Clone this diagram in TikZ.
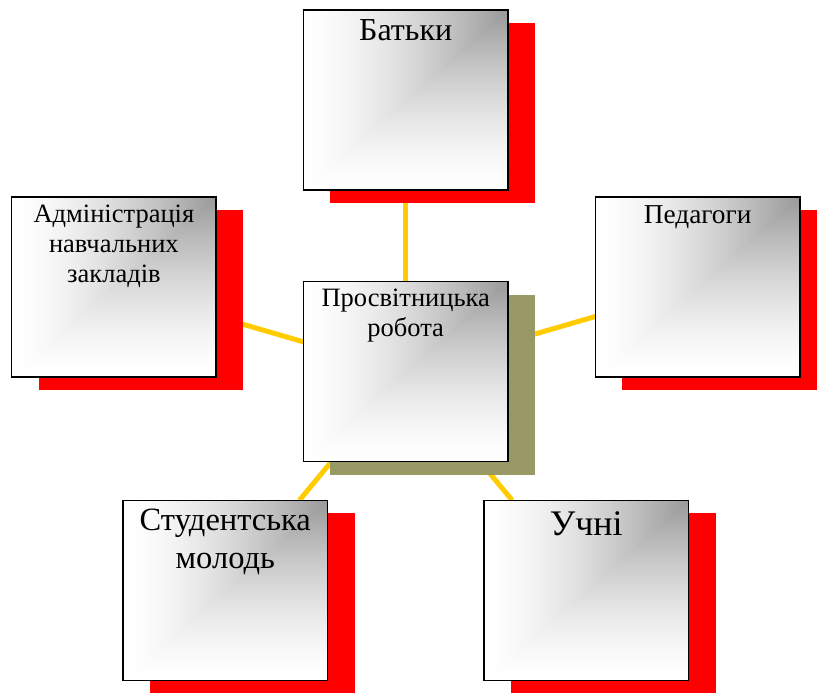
\documentclass[tikz,border=0pt]{standalone}
\usepackage{fontspec}
\setmainfont{Liberation Serif}
\usepackage{tikz}
\usetikzlibrary{shadows,backgrounds}

\definecolor{linkgold}{HTML}{FFCC00}
\definecolor{shadowred}{HTML}{FF0000}
\definecolor{shadowolive}{HTML}{999966}

% grey in the upper right corner, white towards left and bottom edges
\pgfdeclarefunctionalshading{cornerfade}{\pgfpoint{-50bp}{-50bp}}{\pgfpoint{50bp}{50bp}}{}{
  25 exch sub exch 25 exch sub
  2 copy sub abs add add 2 div
  50 div 1 exch sub abs dup sqrt mul 0.4 mul 1 exch sub
  dup dup
}

\tikzset{
  box/.style={draw=black, line width=1.5pt, shade, shading=cornerfade,
    minimum width=204.5pt, minimum height=180pt, inner sep=0pt, outer sep=0pt,
    drop shadow={shadow xshift=27pt, shadow yshift=-13pt, fill=#1, opacity=1}},
  box/.default=shadowred,
  boxtext/.style={anchor=base, align=center, inner sep=0pt},
  link/.style={draw=linkgold, line width=5pt}
}

\begin{document}
\begin{tikzpicture}[x=1pt, y=-1pt]

  \useasboundingbox (0,0) rectangle (817,693);

  % base of a text node is the base of its last line
  \node[box] (batky) at (405.7, 100) {};
  \node[boxtext, font=\fontsize{32}{36}\selectfont] (batky-t) at ([yshift=-30.7pt]batky.north) {Батьки};

  \node[box] (admin) at (113.9, 286.9) {};
  \node[boxtext, font=\fontsize{26.5}{30}\selectfont] (admin-t) at ([yshift=-85.8pt]admin.north) {Адміністрація\\навчальних\\закладів};

  \node[box] (pedag) at (697.7, 286.9) {};
  \node[boxtext, font=\fontsize{27.3}{30}\selectfont] (pedag-t) at ([yshift=-26.4pt]pedag.north) {Педагоги};

  \node[box=shadowolive] (prosv) at (405.7, 371.5) {};
  \node[boxtext, font=\fontsize{26.5}{30.7}\selectfont] (prosv-t) at ([yshift=-55.2pt]prosv.north) {Просвітницька\\робота};

  \node[box] (stud) at (225.3, 590.3) {};
  \node[boxtext, font=\fontsize{32.5}{37.6}\selectfont] (stud-t) at ([yshift=-68pt]stud.north) {Студентська\\молодь};

  \node[box] (uchni) at (586.3, 590.3) {};
  \node[boxtext, font=\fontsize{36}{40}\selectfont] (uchni-t) at ([yshift=-34.7pt]uchni.north) {Учні};

  \begin{scope}[on background layer]
    \draw[link] (prosv) -- (batky); % hub->top
    \draw[link] (prosv) -- (admin); % hub->left
    \draw[link] (prosv) -- (pedag); % hub->right
    \draw[link] (prosv) -- (stud);  % hub->bottom left
    \draw[link] (prosv) -- (uchni); % hub->bottom right
  \end{scope}

\end{tikzpicture}
\end{document}
